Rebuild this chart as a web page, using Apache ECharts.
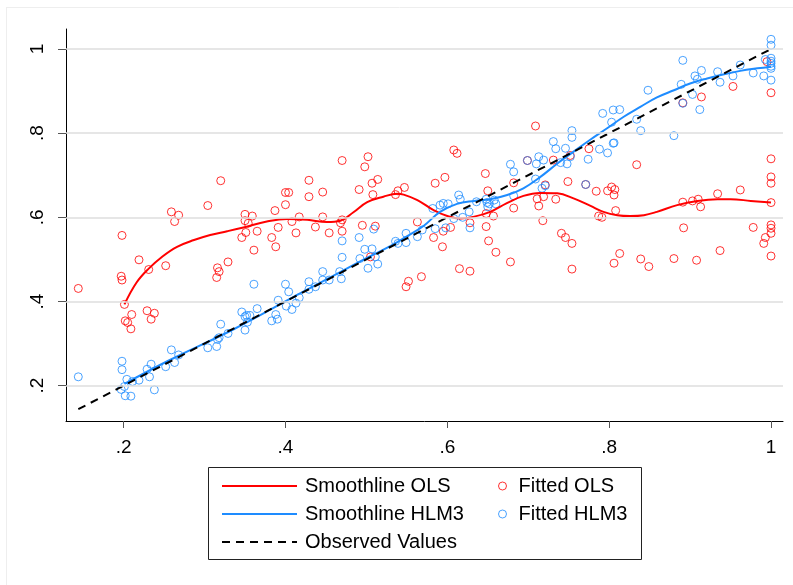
<!DOCTYPE html>
<html>
<head>
<meta charset="utf-8">
<script src="https://cdn.jsdelivr.net/npm/echarts@6/dist/echarts.min.js"></script>
<style>
html,body{margin:0;padding:0;background:#fff;}
#chart{width:793px;height:585px;}
</style>
</head>
<body>
<div id="chart"></div>
<script>
var xTicks = [0.2, 0.4, 0.6, 0.8, 1];
var yTicks = [0.2, 0.4, 0.6, 0.8, 1];

var fittedOLS = [[0.144,0.431],[0.198,0.557],[0.197,0.460],[0.198,0.451],[0.201,0.393],[0.202,0.354],[0.205,0.350],[0.210,0.369],[0.209,0.335],[0.219,0.499],[0.231,0.476],[0.229,0.378],[0.234,0.358],[0.238,0.372],[0.252,0.485],[0.259,0.613],[0.263,0.590],[0.268,0.605],[0.304,0.628],[0.320,0.687],[0.316,0.480],[0.318,0.471],[0.315,0.457],[0.329,0.494],[0.350,0.607],[0.350,0.592],[0.354,0.586],[0.351,0.564],[0.359,0.603],[0.346,0.552],[0.365,0.567],[0.361,0.522],[0.387,0.616],[0.391,0.576],[0.383,0.552],[0.388,0.530],[0.400,0.659],[0.404,0.659],[0.400,0.630],[0.408,0.590],[0.417,0.601],[0.413,0.563],[0.429,0.688],[0.429,0.649],[0.437,0.577],[0.446,0.660],[0.446,0.601],[0.454,0.563],[0.470,0.735],[0.468,0.587],[0.470,0.594],[0.470,0.567],[0.491,0.666],[0.498,0.720],[0.502,0.744],[0.495,0.581],[0.507,0.681],[0.508,0.654],[0.514,0.690],[0.511,0.579],[0.505,0.506],[0.536,0.654],[0.539,0.663],[0.547,0.671],[0.549,0.435],[0.552,0.448],[0.568,0.459],[0.563,0.589],[0.583,0.552],[0.585,0.681],[0.597,0.695],[0.594,0.530],[0.595,0.567],[0.604,0.576],[0.608,0.760],[0.612,0.752],[0.615,0.478],[0.628,0.472],[0.628,0.587],[0.647,0.704],[0.650,0.663],[0.648,0.609],[0.648,0.578],[0.651,0.544],[0.660,0.517],[0.657,0.603],[0.678,0.494],[0.682,0.682],[0.682,0.622],[0.699,0.735],[0.709,0.817],[0.711,0.644],[0.713,0.627],[0.719,0.649],[0.721,0.677],[0.718,0.592],[0.731,0.736],[0.734,0.643],[0.741,0.562],[0.746,0.552],[0.754,0.538],[0.749,0.685],[0.754,0.477],[0.752,0.747],[0.775,0.763],[0.771,0.678],[0.784,0.662],[0.787,0.603],[0.791,0.600],[0.798,0.663],[0.803,0.672],[0.807,0.666],[0.806,0.653],[0.808,0.616],[0.806,0.491],[0.813,0.514],[0.834,0.725],[0.839,0.501],[0.849,0.483],[0.880,0.502],[0.891,0.872],[0.891,0.636],[0.892,0.575],[0.903,0.639],[0.910,0.643],[0.913,0.625],[0.908,0.498],[0.914,0.886],[0.934,0.656],[0.937,0.521],[0.953,0.911],[0.962,0.665],[0.978,0.576],[0.993,0.552],[0.991,0.538],[0.995,0.970],[1,0.896],[1,0.739],[1,0.696],[1,0.681],[1,0.635],[1,0.582],[1,0.574],[1,0.562],[1,0.508]];

var fittedHLM3 = [[0.144,0.221],[0.198,0.258],[0.198,0.238],[0.197,0.191],[0.202,0.176],[0.209,0.175],[0.204,0.215],[0.211,0.210],[0.201,0.198],[0.219,0.213],[0.229,0.239],[0.234,0.251],[0.232,0.221],[0.238,0.190],[0.252,0.245],[0.259,0.285],[0.263,0.255],[0.268,0.273],[0.304,0.290],[0.315,0.293],[0.316,0.310],[0.320,0.346],[0.318,0.314],[0.329,0.324],[0.346,0.375],[0.350,0.332],[0.350,0.364],[0.353,0.351],[0.352,0.367],[0.356,0.367],[0.361,0.441],[0.365,0.383],[0.383,0.354],[0.388,0.369],[0.390,0.358],[0.391,0.403],[0.400,0.441],[0.404,0.423],[0.401,0.389],[0.408,0.381],[0.413,0.396],[0.417,0.409],[0.429,0.447],[0.429,0.429],[0.437,0.435],[0.446,0.471],[0.446,0.451],[0.454,0.451],[0.467,0.471],[0.470,0.544],[0.470,0.505],[0.469,0.454],[0.491,0.552],[0.492,0.502],[0.498,0.524],[0.502,0.479],[0.507,0.525],[0.509,0.572],[0.511,0.506],[0.514,0.489],[0.536,0.543],[0.539,0.538],[0.549,0.562],[0.549,0.540],[0.563,0.554],[0.569,0.570],[0.585,0.573],[0.582,0.621],[0.591,0.629],[0.595,0.633],[0.601,0.632],[0.598,0.575],[0.608,0.597],[0.614,0.653],[0.616,0.643],[0.619,0.600],[0.627,0.613],[0.628,0.575],[0.636,0.637],[0.648,0.643],[0.650,0.625],[0.652,0.632],[0.649,0.635],[0.660,0.632],[0.658,0.641],[0.678,0.726],[0.682,0.708],[0.682,0.651],[0.699,0.735],[0.709,0.691],[0.710,0.727],[0.713,0.744],[0.719,0.736],[0.717,0.669],[0.721,0.675],[0.731,0.780],[0.734,0.763],[0.746,0.764],[0.740,0.730],[0.748,0.727],[0.754,0.806],[0.754,0.790],[0.752,0.744],[0.771,0.678],[0.774,0.738],[0.788,0.762],[0.798,0.753],[0.792,0.847],[0.805,0.855],[0.813,0.856],[0.803,0.826],[0.805,0.776],[0.806,0.777],[0.834,0.833],[0.839,0.806],[0.848,0.902],[0.880,0.794],[0.891,0.973],[0.889,0.916],[0.891,0.871],[0.903,0.892],[0.906,0.936],[0.909,0.928],[0.914,0.949],[0.912,0.856],[0.934,0.946],[0.937,0.921],[0.953,0.936],[0.962,0.962],[0.978,0.943],[0.991,0.936],[0.993,0.975],[1,1.023],[1,1.009],[1,0.978],[1,0.971],[1,0.966],[1,0.959],[1,0.954],[1,0.926]];

var smoothOLS = [[0.201,0.393],[0.216,0.445],[0.231,0.478],[0.248,0.507],[0.266,0.530],[0.287,0.546],[0.307,0.558],[0.328,0.567],[0.348,0.576],[0.377,0.590],[0.402,0.596],[0.427,0.594],[0.451,0.589],[0.468,0.592],[0.484,0.612],[0.501,0.636],[0.521,0.649],[0.538,0.656],[0.546,0.654],[0.563,0.641],[0.583,0.617],[0.600,0.603],[0.616,0.597],[0.632,0.601],[0.653,0.613],[0.673,0.633],[0.694,0.651],[0.715,0.658],[0.736,0.657],[0.756,0.645],[0.777,0.627],[0.793,0.613],[0.810,0.605],[0.826,0.603],[0.843,0.605],[0.859,0.613],[0.884,0.629],[0.909,0.639],[0.934,0.643],[0.950,0.643],[0.975,0.639],[1.0,0.635]];

var smoothHLM3 = [[0.201,0.204],[0.254,0.258],[0.336,0.334],[0.418,0.419],[0.501,0.504],[0.530,0.532],[0.550,0.555],[0.571,0.580],[0.591,0.613],[0.612,0.632],[0.633,0.639],[0.653,0.643],[0.674,0.653],[0.694,0.669],[0.715,0.696],[0.736,0.728],[0.756,0.756],[0.777,0.785],[0.797,0.811],[0.818,0.839],[0.839,0.863],[0.859,0.885],[0.880,0.902],[0.900,0.918],[0.921,0.930],[0.942,0.940],[0.962,0.948],[0.983,0.954],[1.0,0.958]];

var observed = [[0.144,0.144],[1,1]];

var RED = '#ff0000';
var BLUE = '#1e8cff';
var FONT = '"Liberation Sans", Arial, sans-serif';

function fmt(v){
  if (Math.abs(v - 1) < 1e-9) return '1';
  return String(Math.round(v * 10) / 10).replace(/^0\./, '.');
}

var hiddenSym = {color: 'rgba(0,0,0,0)', borderWidth: 0, opacity: 0};

var chart = echarts.init(document.getElementById('chart'), null, {renderer:'canvas'});
chart.setOption({
  animation: false,
  backgroundColor: '#fff',
  textStyle: {fontFamily: FONT},
  grid: {left: 66, right: 10, top: 29, bottom: 164, containLabel: false},
  xAxis: {
    type: 'value', min: 0.1288, max: 1.0148,
    axisLine: {show: true, lineStyle: {color: '#000', width: 1}},
    axisTick: {show: true, customValues: xTicks, length: 7, lineStyle: {color: '#555', width: 1}},
    axisLabel: {customValues: xTicks, formatter: fmt, fontSize: 19, color: '#000', margin: 17, fontFamily: FONT},
    splitLine: {show: false}
  },
  yAxis: {
    type: 'value', min: 0.116, max: 1.0475,
    axisLine: {show: true, lineStyle: {color: '#000', width: 1}},
    axisTick: {show: true, customValues: yTicks, length: 8, lineStyle: {color: '#555', width: 1}},
    axisLabel: {customValues: yTicks, formatter: fmt, fontSize: 19, color: '#000', margin: 19, rotate: 90, fontFamily: FONT},
    splitLine: {show: false}
  },
  legend: [
    {
      data: [
        {name: 'Smoothline OLS', itemStyle: hiddenSym},
        {name: 'Smoothline HLM3', itemStyle: hiddenSym},
        {name: 'Observed Values', itemStyle: hiddenSym}
      ],
      orient: 'vertical', left: 216, top: 471,
      itemWidth: 75, itemHeight: 14, itemGap: 8,
      itemStyle: hiddenSym,
      textStyle: {fontSize: 20, lineHeight: 20, color: '#000', fontFamily: FONT, padding: [0,0,0,3]},
      selectedMode: false
    },
    {
      data: [
        {name: 'Fitted OLS', icon: 'circle', itemStyle: {color: 'rgba(0,0,0,0)', borderColor: RED, borderWidth: 1}},
        {name: 'Fitted HLM3', icon: 'circle', itemStyle: {color: 'rgba(0,0,0,0)', borderColor: BLUE, borderWidth: 1}}
      ],
      orient: 'vertical', left: 493, top: 471,
      itemWidth: 8, itemHeight: 8, itemGap: 8,
      textStyle: {fontSize: 20, lineHeight: 20, color: '#000', fontFamily: FONT, padding: [0,0,0,7]},
      selectedMode: false
    }
  ],
  graphic: [
    {type: 'line', shape: {x1: 6, y1: 7.5, x2: 793, y2: 7.5}, style: {stroke: '#eeeeee', lineWidth: 1}, silent: true},
    {type: 'line', shape: {x1: 6.5, y1: 7, x2: 6.5, y2: 585}, style: {stroke: '#eeeeee', lineWidth: 1}, silent: true},
    {type: 'rect', shape: {x: 208.5, y: 467.5, width: 433, height: 92}, style: {fill: 'none', stroke: '#222', lineWidth: 1}, silent: true}
  ],
  series: [
    {
      name: 'grid', type: 'line', data: [], z: 0, silent: true,
      markLine: {
        silent: true, symbol: ['none', 'none'], label: {show: false},
        lineStyle: {color: '#dedede', type: 'solid', width: 1.5},
        data: yTicks.map(function(v){ return {yAxis: v}; })
      }
    },
    {
      name: 'Fitted OLS', type: 'scatter', data: fittedOLS, z: 2,
      symbol: 'circle', symbolSize: 8,
      itemStyle: {color: 'rgba(0,0,0,0)', borderColor: RED, borderWidth: 1}
    },
    {
      name: 'Fitted HLM3', type: 'scatter', data: fittedHLM3, z: 2,
      symbol: 'circle', symbolSize: 8,
      itemStyle: {color: 'rgba(0,0,0,0)', borderColor: BLUE, borderWidth: 1}
    },
    {
      name: 'Smoothline OLS', type: 'line', data: smoothOLS, z: 3,
      symbol: 'none', smooth: 0.4,
      lineStyle: {color: RED, width: 2}, itemStyle: {color: RED}
    },
    {
      name: 'Smoothline HLM3', type: 'line', data: smoothHLM3, z: 3,
      symbol: 'none', smooth: 0.4,
      lineStyle: {color: BLUE, width: 2}, itemStyle: {color: BLUE}
    },
    {
      name: 'Observed Values', type: 'line', data: observed, z: 4,
      symbol: 'none',
      lineStyle: {color: '#000', width: 2, type: [8, 6]}, itemStyle: {color: '#000'}
    }
  ]
});
</script>
</body>
</html>
